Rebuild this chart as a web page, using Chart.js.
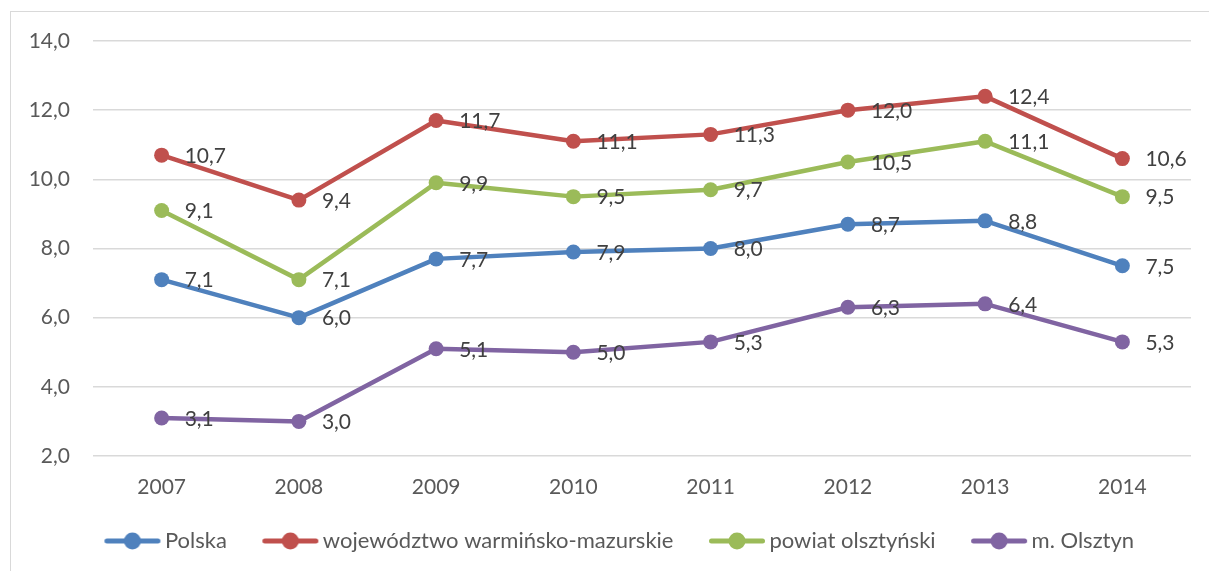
<!DOCTYPE html>
<html>
<head>
<meta charset="utf-8">
<script src="https://cdn.jsdelivr.net/npm/chart.js@4"></script>
<style>
  body { margin: 0; background: #fff; }
  #frame { position: absolute; left: 10px; top: 11px; width: 1199px; height: 560px;
           border-top: 1px solid #d9d9d9; border-left: 1px solid #d9d9d9; }
  #wrap { position: absolute; left: 0; top: 0; width: 1209px; height: 571px; }
</style>
</head>
<body>
<div id="frame"></div>
<div id="wrap"><canvas id="c" width="1209" height="571"></canvas></div>
<script>
const years = ['2007', '2008', '2009', '2010', '2011', '2012', '2013', '2014'];
const polska = [7.1, 6.0, 7.7, 7.9, 8.0, 8.7, 8.8, 7.5];
const wojewodztwo = [10.7, 9.4, 11.7, 11.1, 11.3, 12.0, 12.4, 10.6];
const powiat = [9.1, 7.1, 9.9, 9.5, 9.7, 10.5, 11.1, 9.5];
const olsztyn = [3.1, 3.0, 5.1, 5.0, 5.3, 6.3, 6.4, 5.3];
const seriesNames = ['Polska', 'województwo warmińsko-mazurskie', 'powiat olsztyński', 'm. Olsztyn'];
const colors = ['#4F81BD', '#C0504D', '#9BBB59', '#8064A2'];

const FONT = 'Lato, "Open Sans", sans-serif';
const fmt = (v) => v.toFixed(1).replace('.', ',');

// legend marker: line with a dot, drawn left of centre in a wider canvas
// so the gap to the label stays small
function marker(color) {
    const cv = document.createElement('canvas');
    cv.width = 90; cv.height = 20;
    const g = cv.getContext('2d');
    g.strokeStyle = color; g.lineWidth = 5; g.lineCap = 'round';
    g.beginPath(); g.moveTo(30.5, 10); g.lineTo(81.5, 10); g.stroke();
    g.fillStyle = color;
    g.beginPath(); g.arc(56, 10, 8.5, 0, Math.PI * 2); g.fill();
    return cv;
}

const valueLabels = {
    id: 'valueLabels',
    afterDatasetsDraw(chart) {
        const ctx = chart.ctx;
        ctx.save();
        ctx.font = '21px ' + FONT;
        ctx.fillStyle = '#404040';
        ctx.textAlign = 'left';
        ctx.textBaseline = 'middle';
        chart.data.datasets.forEach((ds, i) => {
            chart.getDatasetMeta(i).data.forEach((pt, j) => {
                ctx.fillText(fmt(ds.data[j]), pt.x + 23, pt.y + 1);
            });
        });
        ctx.restore();
    }
};

// nudge the legend row a bit to the right, as in the original
const legendShift = {
    id: 'legendShift',
    afterLayout(chart) {
        chart.legend.left += 16;
        chart.legend.right += 16;
    }
};

const allSeries = [polska, wojewodztwo, powiat, olsztyn];

new Chart(document.getElementById('c'), {
    type: 'line',
    data: {
        labels: years,
        datasets: allSeries.map((d, i) => ({
            label: seriesNames[i],
            data: d,
            borderColor: colors[i],
            backgroundColor: colors[i],
            borderWidth: 4.5,
            borderJoinStyle: 'round',
            borderCapStyle: 'round',
            pointRadius: 7.5,
            pointBorderWidth: 0,
            pointBackgroundColor: colors[i],
            tension: 0
        }))
    },
    options: {
        responsive: false,
        animation: false,
        layout: { padding: { left: 0, right: 18, top: 41, bottom: 9 } },
        scales: {
            x: {
                offset: true,
                grid: { display: false, drawTicks: false },
                border: { display: false },
                afterFit: (s) => { s.height = 54; },
                ticks: { color: '#595959', font: { size: 21, family: FONT }, padding: 19 }
            },
            y: {
                min: 2, max: 14,
                grid: { color: '#d9d9d9', lineWidth: 1.5, drawTicks: false },
                border: { display: false },
                afterFit: (s) => { s.width = 93; },
                ticks: {
                    stepSize: 2, padding: 23, color: '#595959',
                    font: { size: 21, family: FONT },
                    callback: (v) => fmt(v)
                }
            }
        },
        plugins: {
            tooltip: { enabled: false },
            legend: {
                position: 'bottom',
                labels: {
                    usePointStyle: true,
                    pointStyleWidth: 65,
                    padding: 20,
                    color: '#595959',
                    font: { size: 22, family: FONT },
                    generateLabels: (chart) => chart.data.datasets.map((ds, i) => ({
                        text: ds.label,
                        pointStyle: marker(colors[i]),
                        fillStyle: colors[i],
                        strokeStyle: colors[i],
                        lineWidth: 0,
                        datasetIndex: i,
                        fontColor: '#595959'
                    }))
                }
            }
        }
    },
    plugins: [valueLabels, legendShift]
});
</script>
</body>
</html>
